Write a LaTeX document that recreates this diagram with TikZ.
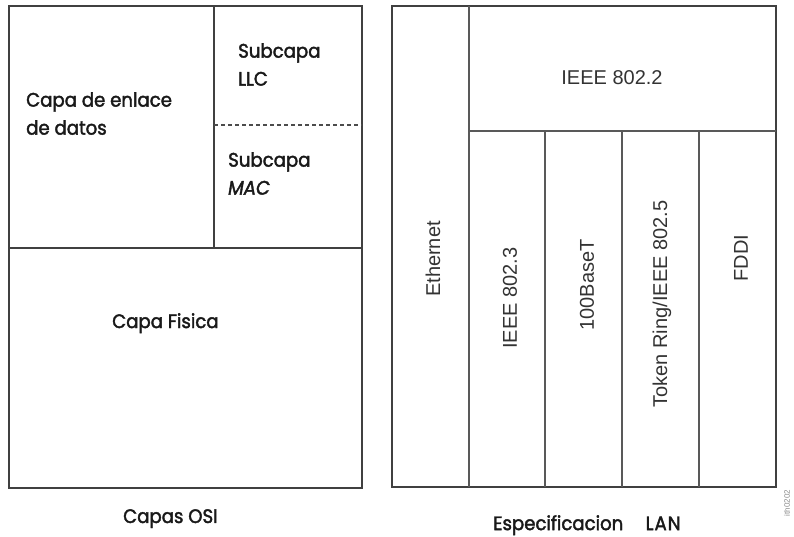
\documentclass[tikz,border=0pt]{standalone}
\usepackage{fontspec}
\setmainfont{Liberation Sans}
\newfontfamily\handfont[FakeStretch=0.93,FakeBold=2]{Poppins}
\begin{document}
\begin{tikzpicture}[x=1pt,y=-1pt,
  frame/.style={draw=black!75,line width=1.4pt},
  sub/.style={draw=black!65,line width=1.2pt},
  osi/.style={font=\handfont\fontsize{19.5}{28}\selectfont,text=black!90,
    inner sep=0pt,anchor=north west,align=left},
  lan/.style={font=\fontsize{20}{24}\selectfont,text=black!80,inner sep=0pt},
  vlan/.style={lan,rotate=90}]
\useasboundingbox (0,0) rectangle (794,536);

% --- OSI layers (left) ---
\draw[frame] (9,6) rectangle (362,488);
\draw[frame] (9,248) -- (362,248);
\draw[frame] (214,6) -- (214,248);
\draw[black!70,line width=1.1pt,dash pattern=on 4pt off 3pt] (214,125) -- (362,125);

\node[osi] (llc) at (238,43) {Subcapa\\LLC};
\node[osi] (enlace) at (26,92) {Capa de enlace\\de datos};
\node[osi] (mac) at (228,152) {Subcapa\\\textit{MAC}};
\node[osi] (fisica) at (112,313) {Capa Fisica};
\node[osi] (osi) at (123,509) {Capas OSI};

% --- LAN specifications (right) ---
\draw[frame] (392,6) rectangle (776,487);
\draw[sub] (469,6) -- (469,487);
\draw[sub] (469,131) -- (776,131);
\draw[sub] (545,131) -- (545,487);
\draw[sub] (622,131) -- (622,487);
\draw[sub] (699,131) -- (699,487);

\node[lan] (ieee2) at (612,78) {IEEE 802.2};
\node[vlan] (eth) at (433,259) {Ethernet};
\node[vlan] (ieee3) at (510,298) {IEEE 802.3};
\node[vlan] (base) at (587,285) {100BaseT};
\node[vlan] (token) at (662,304) {Token Ring/IEEE 802.5};
\node[vlan] (fddi) at (741,258) {FDDI};

\node[osi] (lanlbl) at (493,515) {Especificacion\hspace{0.9em} L\kern1pt A\kern1pt N};

\node[font=\fontsize{8}{9}\selectfont,text=black!45,rotate=90,inner sep=0pt] (fig) at (787,503) {ith0202};
\end{tikzpicture}
\end{document}
